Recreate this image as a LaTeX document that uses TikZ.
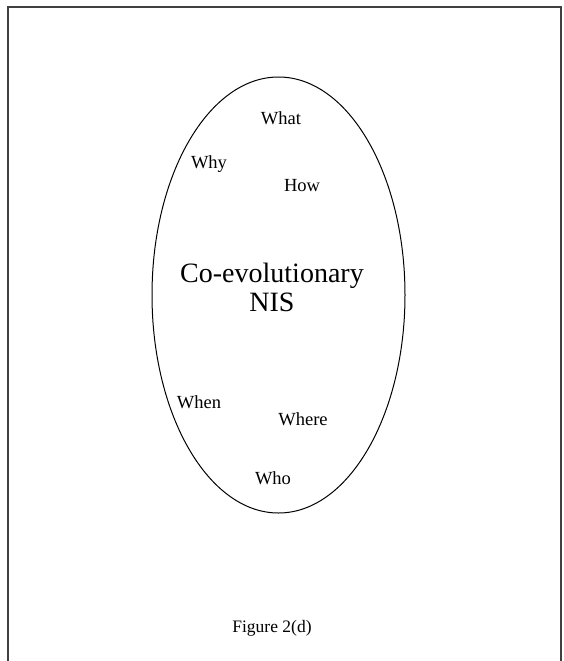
\documentclass[tikz,border=0pt]{standalone}
\usepackage{fontspec}
\setmainfont{Liberation Serif}
\usetikzlibrary{shapes.geometric}
\tikzset{
  frameline/.style={draw=black!75, line width=1.6pt},
  bubble/.style={ellipse, draw=black, line width=1pt, inner sep=0pt,
                 minimum width=253pt, minimum height=436pt},
  question/.style={inner sep=0pt, font=\fontsize{18.5}{20}\selectfont},
  title/.style={inner sep=0pt, align=center, font=\fontsize{28}{29}\selectfont},
  caption/.style={inner sep=0pt, font=\fontsize{17.5}{19}\selectfont}
}
\begin{document}
\begin{tikzpicture}[x=1pt, y=-1pt]
  \useasboundingbox (0,0) rectangle (564,661);
  % outer frame, open at the bottom edge of the page
  \draw[frameline] (8,680) -- (8,7) -- (561,7) -- (561,680);
  % the co-evolution bubble
  \node[bubble] (nis) at (278.5,295) {};
  \node[title] (core) at (272,287) {Co-evolutionary\\NIS};
  % the six questions
  \node[question] (what)  at (281,118) {What};
  \node[question] (why)   at (209,164) {Why};
  \node[question] (how)   at (302,186) {How};
  \node[question] (when)  at (199,402) {When};
  \node[question] (where) at (303,419) {Where};
  \node[question] (who)   at (273,478) {Who};
  \node[caption] (fig) at (272,628) {Figure 2(d)};
\end{tikzpicture}
\end{document}
